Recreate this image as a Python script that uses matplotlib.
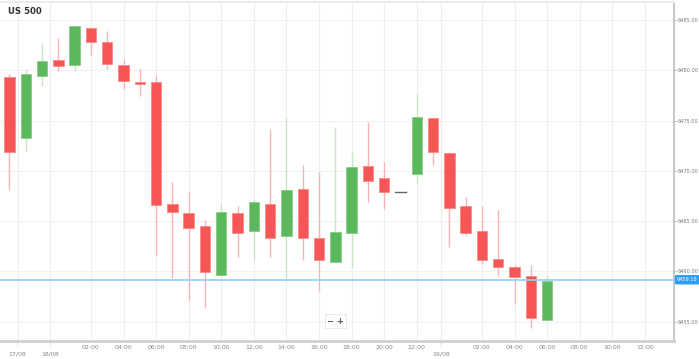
import matplotlib
matplotlib.use("Agg")
import matplotlib.pyplot as plt
from matplotlib.patches import Rectangle

# ---- data (hourly candles starting 21:00 on 17/08) ----
opens = [6479.3, 6473.3, 6479.4, 6481.0, 6480.5, 6484.2, 6482.8, 6480.5, 6478.8, 6478.8,
         6466.7, 6465.8, 6464.5, 6459.7, 6465.8, 6464.0, 6466.7, 6463.5, 6468.2, 6463.3,
         6460.9, 6463.8, 6470.5, 6469.3, 6467.9, 6469.7, 6475.3, 6471.8, 6466.5, 6464.0,
         6461.2, 6460.4, 6459.6, 6455.2]
closes = [6471.9, 6479.6, 6480.9, 6480.4, 6484.4, 6482.8, 6480.6, 6478.9, 6478.6, 6466.6,
          6465.9, 6464.3, 6459.9, 6465.9, 6463.8, 6466.9, 6463.3, 6468.1, 6463.3, 6461.1,
          6463.9, 6470.4, 6469.0, 6467.9, 6467.9, 6475.4, 6471.9, 6466.3, 6463.8, 6461.1,
          6460.4, 6459.5, 6455.4, 6459.1]
highs = [6479.6, 6480.1, 6482.7, 6483.2, 6484.4, 6484.3, 6483.9, 6481.1, 6480.1, 6479.5,
         6468.9, 6467.9, 6465.1, 6466.7, 6466.5, 6467.2, 6474.2, 6475.4, 6470.6, 6469.9,
         6474.4, 6471.9, 6474.9, 6470.9, 6467.9, 6477.7, 6475.3, 6471.9, 6467.4, 6466.5,
         6466.1, 6460.6, 6460.6, 6459.7]
lows = [6468.1, 6472.0, 6478.4, 6479.9, 6479.9, 6481.5, 6480.1, 6478.1, 6477.4, 6461.6,
        6459.4, 6457.2, 6456.4, 6459.7, 6461.4, 6461.2, 6461.4, 6459.2, 6461.1, 6458.1,
        6460.9, 6460.4, 6466.9, 6466.2, 6467.9, 6468.8, 6470.6, 6462.4, 6463.6, 6460.7,
        6459.6, 6456.8, 6454.4, 6455.2]
current_price = 6459.18
title = "US 500"

time_tick_pos = [5, 7, 9, 11, 13, 15, 17, 19, 21, 23, 25, 29, 31, 33, 35, 37, 39]
time_tick_labels = ["02:00", "04:00", "06:00", "08:00", "10:00", "12:00", "14:00", "16:00",
                    "18:00", "20:00", "22:00", "02:00", "04:00", "06:00", "08:00", "10:00", "12:00"]
date_tick_pos = [0.5, 2.5, 26.5]
date_tick_labels = ["17/08", "18/08", "19/08"]
price_ticks = [6455, 6460, 6465, 6470, 6475, 6480, 6485]

RED = "#f65656"
RED_EDGE = "#f88a8a"
RED_WICK = "#f9b4b4"
GREEN = "#5cb85c"
GREEN_EDGE = "#8acb8a"
GREEN_WICK = "#c6e6c6"

fig = plt.figure(figsize=(6.99, 3.59), dpi=100)
W, H = 699, 359
ax = fig.add_axes([0 / W, (H - 340.7) / H, 674 / W, (340.7 - 1.7) / H])
ax.set_xlim(-0.583, 40.79)
ax.set_ylim(6453.12, 6486.82)

# grid
for p in price_ticks:
    ax.axhline(p, color="#f2f2f2", lw=0.8, zorder=0)
for x in time_tick_pos + date_tick_pos:
    ax.axvline(x, color="#eeeeee", lw=0.8, zorder=0)

bw = 0.64
for i, (o, h, l, c) in enumerate(zip(opens, highs, lows, closes)):
    if abs(o - c) < 0.05:
        ax.plot([i - bw / 2, i + bw / 2], [o, o], color="#666666", lw=1.0, zorder=3)
        continue
    up = c > o
    wick = GREEN_WICK if up else RED_WICK
    face = GREEN if up else RED
    edge = GREEN_EDGE if up else RED_EDGE
    ax.plot([i, i], [l, h], color=wick, lw=1.0, zorder=2, solid_capstyle="butt")
    lo, hi = min(o, c), max(o, c)
    ax.add_patch(Rectangle((i - bw / 2, lo), bw, hi - lo, facecolor=face,
                           edgecolor=edge, lw=0.6, zorder=3))

# current price line
ax.axhline(current_price, color="#8fd0f8", lw=1.2, zorder=4)

# spines
for s in ["top", "left"]:
    ax.spines[s].set_visible(False)
ax.spines["bottom"].set_color("#cfcfcf")
ax.spines["bottom"].set_linewidth(2)
ax.spines["right"].set_color("#bdbdbd")
ax.spines["right"].set_linewidth(1.2)
fig.add_artist(plt.Line2D([0, 674 / W], [(H - 1.7) / H] * 2, color="#ececec", lw=1.5))

ax.yaxis.tick_right()
ax.set_yticks(price_ticks)
ax.set_yticklabels([f"{p:.2f}" for p in price_ticks])
ax.tick_params(axis="y", length=2, width=0.6, color="#bbbbbb", labelsize=3.6,
               labelcolor="#777777", pad=0.8)

ax.set_xticks(time_tick_pos)
ax.set_xticklabels(time_tick_labels)
ax.tick_params(axis="x", length=0, labelsize=4.5, labelcolor="#888888", pad=3.0)

# date labels (second row)
for x, lab in zip(date_tick_pos, date_tick_labels):
    ax.annotate(lab, xy=(x, 0), xycoords=("data", "axes fraction"),
                xytext=(0, -9.4), textcoords="offset points",
                ha="center", va="center", fontsize=4.5, color="#888888")
    ax.annotate("", xy=(x, 0), xycoords=("data", "axes fraction"),
                xytext=(0, -6), textcoords="offset points",
                arrowprops=dict(arrowstyle="-", color="#cccccc", lw=0.6, ls=":"))

# current price label
ax.annotate(f"{current_price:.2f}", xy=(1, current_price), xycoords=("axes fraction", "data"),
            xytext=(2.2, 0), textcoords="offset points", ha="left", va="center",
            fontsize=3.6, color="white",
            bbox=dict(boxstyle="round,pad=0.3,rounding_size=0.15", fc="#2a9df4", ec="#2a9df4"))

# title
fig.text(7.5 / W, 1 - 12 / H, title, fontsize=6.2, fontweight="bold", color="#333333",
         ha="left", va="center")

# zoom buttons
fig.text(335.5 / W, 1 - 321 / H, "\u2212 +", fontsize=6, color="#555555", ha="center",
         va="center", fontweight="bold",
         bbox=dict(boxstyle="square,pad=0.25", fc="white", ec="#e6e6e6", lw=0.6))

fig.savefig("out.png", dpi=100)
